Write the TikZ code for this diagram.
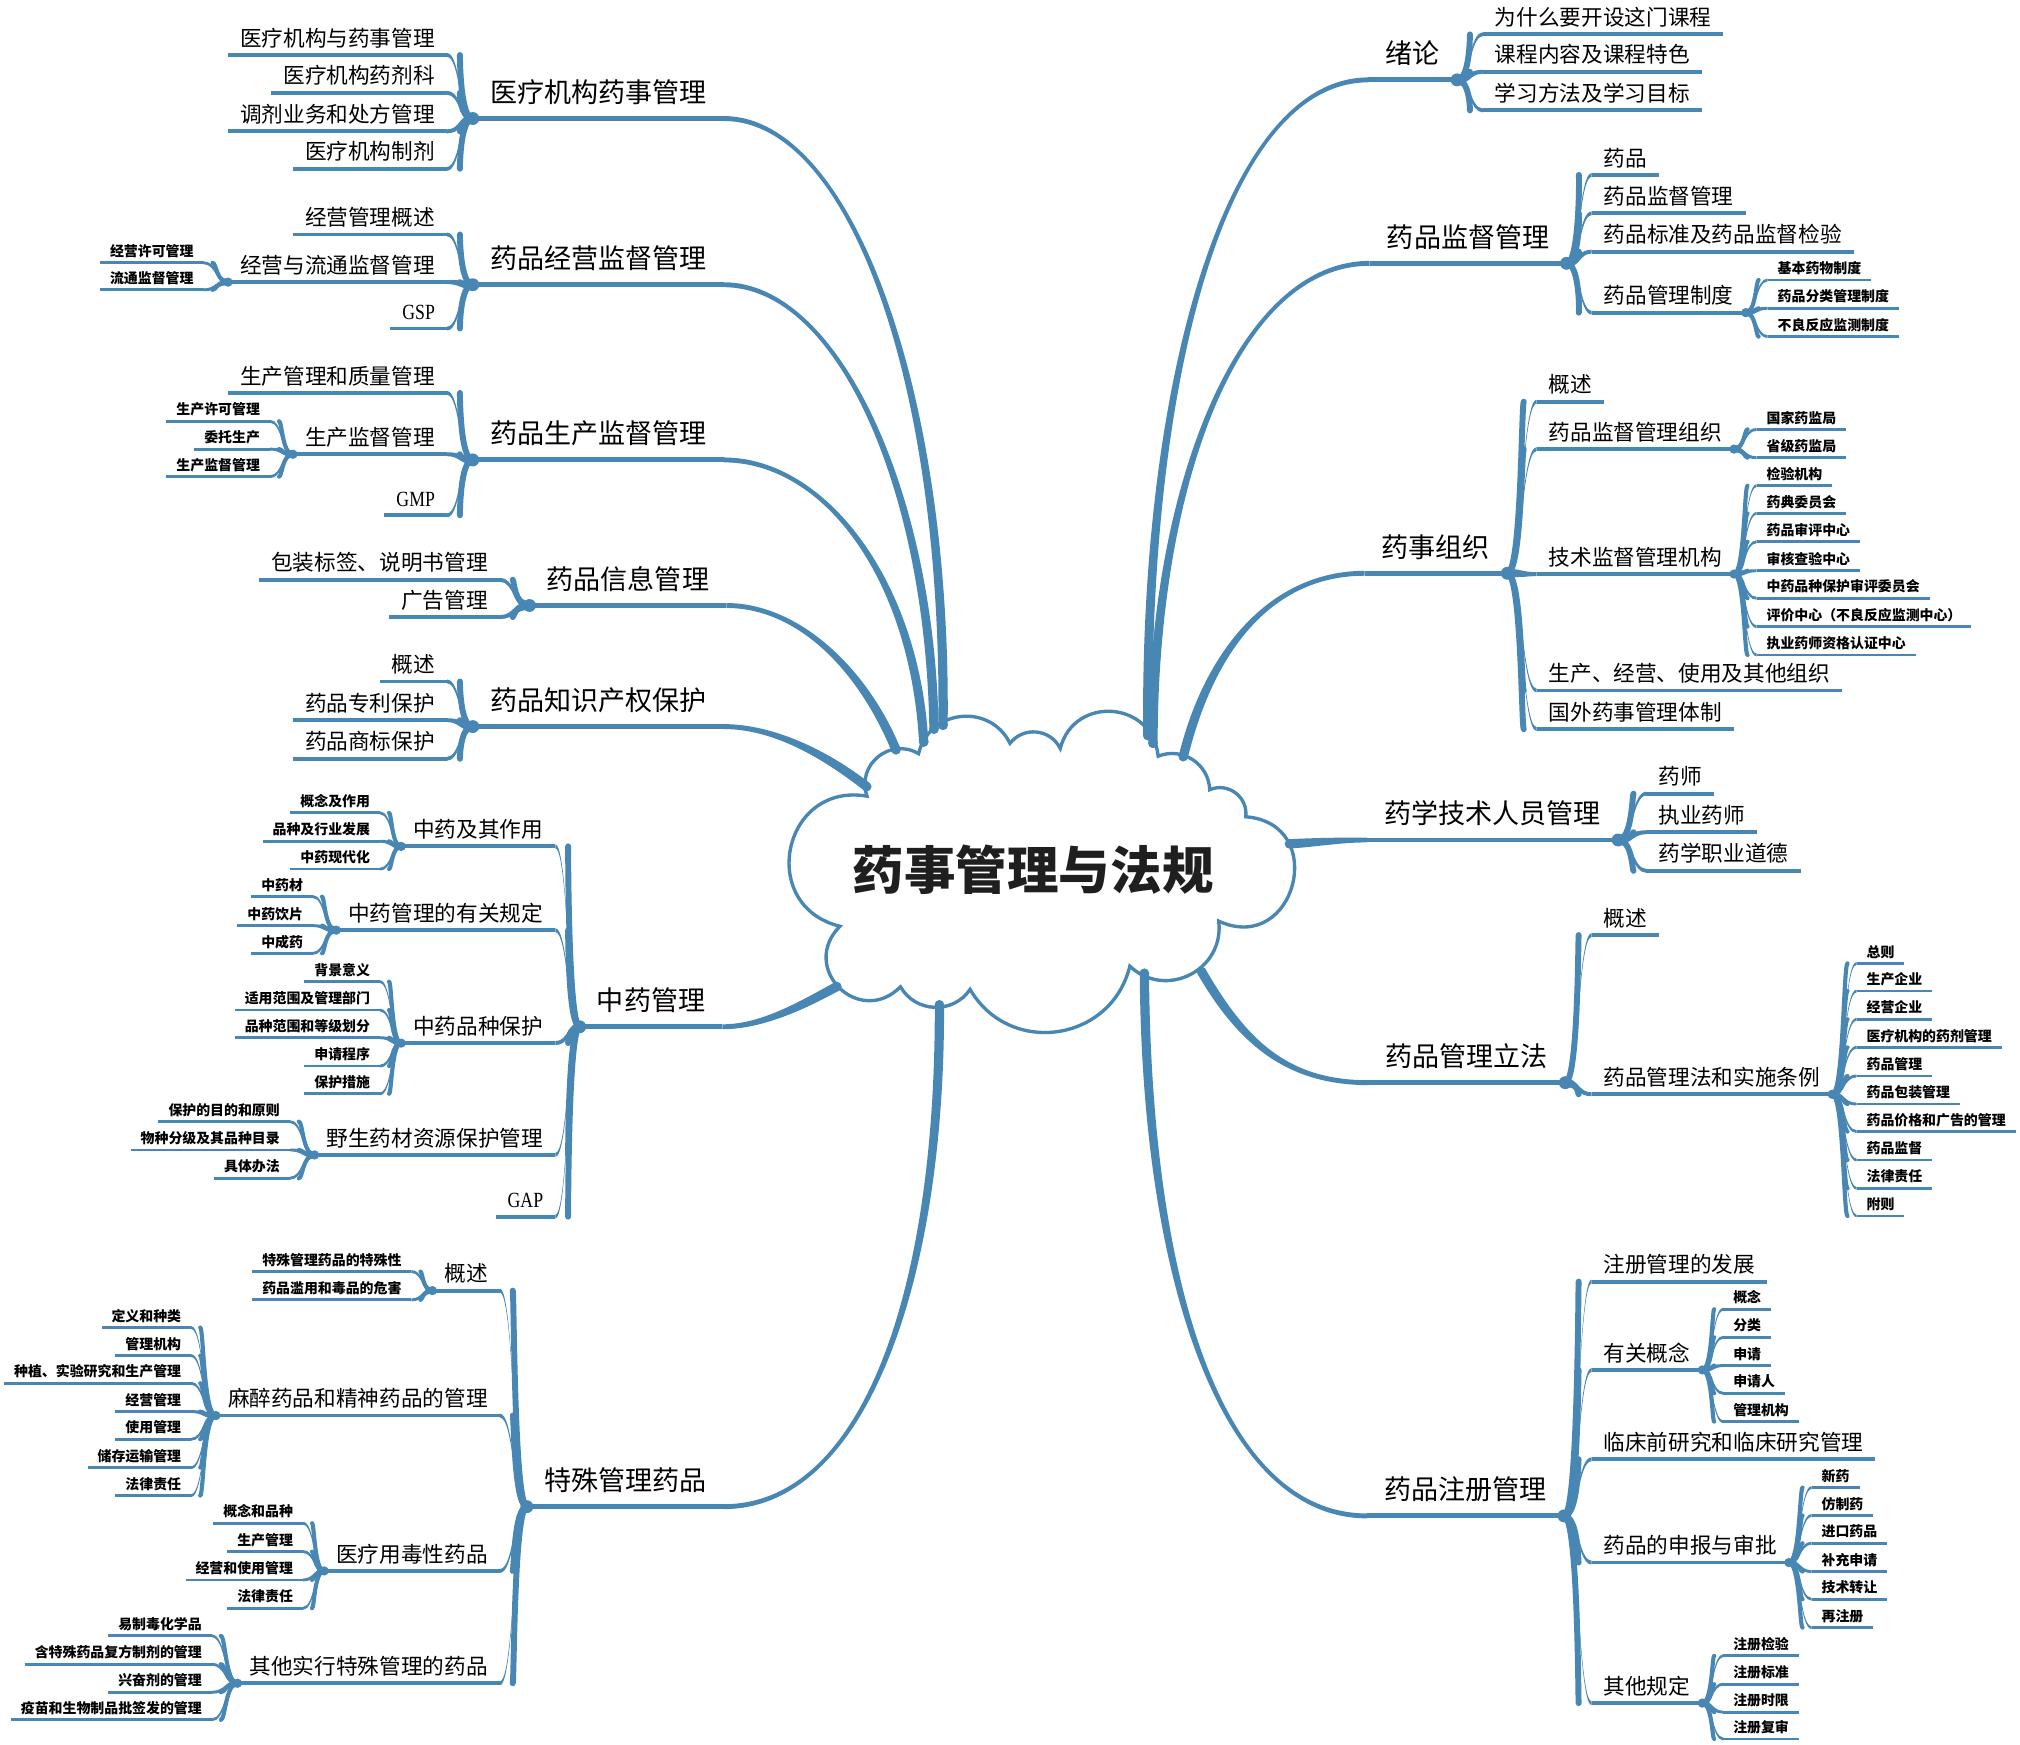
\documentclass[tikz,border=0pt]{standalone}
\usepackage{fontspec}
\usepackage{graphicx}
\setmainfont{Liberation Serif}
\newfontfamily\cjk{Noto Sans CJK SC}
\usetikzlibrary{calc}
\definecolor{brc}{RGB}{72,134,180}
\newcommand\tapr[6]{\fill[brc] ($#1!#5!90:#2$) .. controls ($#2!#5!-90:#1$) and ($#3!#6!90:#4$) .. ($#4!#6!-90:#3$) -- ($#4!#6!90:#3$) .. controls ($#3!#6!-90:#4$) and ($#2!#5!90:#1$) .. ($#1!#5!-90:#2$) -- cycle;}
\newcommand\BR[7]{\tapr{(#1)}{(#3 |- #1)}{(#3 |- #2)}{(#2)}{#4}{#5}\draw[brc, line width=#6, line cap=round, shorten >=#7] (#1) .. controls (#3 |- #1) and (#3 |- #2) .. (#2);}
\newcommand\LN[5]{\node[#2,anchor=south east] (#1) at (#3,#4) {#5}; \draw[#2ln] (#1.south west) -- (#1.south east);}
\newcommand\RN[5]{\node[#2,anchor=south west] (#1) at (#3,#4) {#5}; \draw[#2ln] (#1.south west) -- (#1.south east);}
\newcommand\LGone[3]{\foreach \ch in {#3} {\BR{#1.south west}{\ch.south east}{#2}{1.7pt}{0.75pt}{2.3pt}{5pt}}}
\newcommand\RGone[3]{\foreach \ch in {#3} {\BR{#1.south east}{\ch.south west}{#2}{1.7pt}{0.75pt}{2.3pt}{5pt}}}
\newcommand\LGtwo[3]{\foreach \ch in {#3} {\BR{#1.south west}{\ch.south east}{#2}{1.2pt}{0.55pt}{1.6pt}{3.5pt}}}
\newcommand\RGtwo[3]{\foreach \ch in {#3} {\BR{#1.south east}{\ch.south west}{#2}{1.2pt}{0.55pt}{1.6pt}{3.5pt}}}
\begin{document}
\begin{tikzpicture}[x=0.5pt,y=-0.5pt,
 lA/.style={font=\cjk\fontsize{10.5}{12}\selectfont, inner xsep=6.5pt, inner ysep=6pt, text height=9pt, text depth=0pt},
 lB/.style={font=\cjk\fontsize{8.4}{10}\selectfont, inner xsep=4.5pt, inner ysep=3.25pt, text height=7.2pt, text depth=0pt},
 lC/.style={font=\cjk\bfseries\fontsize{5.4}{6.5}\selectfont, inner xsep=3.7pt, inner ysep=2.25pt, text height=4.6pt, text depth=0pt},
 lAln/.style={draw=brc, line width=1.9pt},
 lBln/.style={draw=brc, line width=1.5pt},
 lCln/.style={draw=brc, line width=1.1pt},
 cloudline/.style={draw=brc, line width=1.3pt, fill=white},
 titlefont/.style={font=\cjk\bfseries\fontsize{20}{24}\selectfont, text=black!88}]
\fill[white] (0,0) rectangle (1568,1354);
\useasboundingbox (0,0) rectangle (1568,1354);

% central cloud
\path[cloudline] (652,719) to[bend left=88,looseness=1.65] (673,618) to[bend left=70,looseness=1.27] (713,585) to[bend left=70,looseness=1.27] (784,577) to[bend left=58,looseness=1.11] (823,581) to[bend left=80,looseness=1.45] (899,587) to[bend left=55,looseness=1.08] (939,613) to[bend left=60,looseness=1.13] (967,634) to[bend left=100,looseness=2.0] (946,715) to[bend left=70,looseness=1.27] (877,750) to[bend left=68,looseness=1.24] (753,768) to[bend left=58,looseness=1.11] (699,766) to[bend left=90,looseness=1.75] (652,719) -- cycle;
\node[titlefont] (title) at (802,675) {药事管理与法规};

% level-1 nodes
\node[lA,anchor=south west] (A) at (367,92) {医疗机构药事管理};
\node[lA,anchor=south west] (B) at (367,221) {药品经营监督管理};
\node[lA,anchor=south west] (C) at (367,357) {药品生产监督管理};
\node[lA,anchor=south west] (D) at (411,470) {药品信息管理};
\node[lA,anchor=south west] (E) at (367,564) {药品知识产权保护};
\node[lA,anchor=south west] (F) at (450,797) {中药管理};
\node[lA,anchor=south west] (G) at (409,1169.5) {特殊管理药品};
\node[lA,anchor=south east] (H) at (1131,62) {绪论};
\node[lA,anchor=south east] (I) at (1216,204.4) {药品监督管理};
\node[lA,anchor=south east] (J) at (1170,445) {药事组织};
\node[lA,anchor=south east] (K) at (1256,652) {药学技术人员管理};
\node[lA,anchor=south east] (L) at (1215,840.4) {药品管理立法};
\node[lA,anchor=south east] (M) at (1214,1176.7) {药品注册管理};
\foreach \n in {A,B,C,D,E,F,G,H,I,J,K,L,M} {\draw[lAln] (\n.south west) -- (\n.south east);}

% cloud attachment points
\coordinate (cA) at (732,563);
\coordinate (cB) at (725,566);
\coordinate (cC) at (717,576);
\coordinate (cD) at (695.5,582);
\coordinate (cE) at (672.7,610.6);
\coordinate (cF) at (649.5,765.8);
\coordinate (cG) at (729.2,780);
\coordinate (cH) at (891,571);
\coordinate (cI) at (895,577);
\coordinate (cJ) at (918.5,587.3);
\coordinate (cK) at (1001,655);
\coordinate (cL) at (932.7,754.2);
\coordinate (cM) at (888.3,755.5);

% main connectors
\tapr{(cA)}{(735,300)}{(660,92)}{(A.south east)}{1.8pt}{0.95pt}
\tapr{(cB)}{(722,380)}{(650,221)}{(B.south east)}{1.8pt}{0.95pt}
\tapr{(cC)}{(710,450)}{(640,357)}{(C.south east)}{1.8pt}{0.95pt}
\tapr{(cD)}{(670,520)}{(620,470)}{(D.south east)}{1.8pt}{0.95pt}
\tapr{(cE)}{(640,585)}{(600,564)}{(E.south east)}{1.8pt}{0.95pt}
\tapr{(cF)}{(620,782)}{(590,797)}{(F.south east)}{1.8pt}{0.95pt}
\tapr{(cG)}{(730,1000)}{(670,1169.5)}{(G.south east)}{1.8pt}{0.95pt}
\tapr{(cH)}{(888,300)}{(950,62)}{(H.south west)}{1.8pt}{0.95pt}
\tapr{(cI)}{(895,380)}{(960,204.4)}{(I.south west)}{1.8pt}{0.95pt}
\tapr{(cJ)}{(940,500)}{(990,445)}{(J.south west)}{1.8pt}{0.95pt}
\tapr{(cK)}{(1020,654)}{(1040,652)}{(K.south west)}{1.8pt}{0.95pt}
\tapr{(cL)}{(965,810)}{(1000,840.4)}{(L.south west)}{1.8pt}{0.95pt}
\tapr{(cM)}{(890,1000)}{(950,1176.7)}{(M.south west)}{1.8pt}{0.95pt}
\foreach \n in {cA,cB,cC,cD,cE,cF,cG,cH,cI,cJ,cK,cL,cM} {\fill[brc] (\n) circle (1.9pt);}

% ---------- left children ----------
\LN{A1}{lB}{347}{42.7}{医疗机构与药事管理}
\LN{A2}{lB}{347}{72}{医疗机构药剂科}
\LN{A3}{lB}{347}{102}{调剂业务和处方管理}
\LN{A4}{lB}{347}{131}{医疗机构制剂}

\LN{B1}{lB}{347}{182}{经营管理概述}
\LN{B2}{lB}{347}{219}{经营与流通监督管理}
\LN{B3}{lB}{347}{255}{\rmfamily\scalebox{0.82}[1]{GSP}}
\LN{B21}{lC}{158}{204}{经营许可管理}
\LN{B22}{lC}{158}{225}{流通监督管理}

\LN{C1}{lB}{347}{305}{生产管理和质量管理}
\LN{C2}{lB}{347}{352.6}{生产监督管理}
\LN{C3}{lB}{347}{400}{\rmfamily\scalebox{0.82}[1]{GMP}}
\LN{C21}{lC}{209.6}{327}{生产许可管理}
\LN{C22}{lC}{209.6}{348.6}{委托生产}
\LN{C23}{lC}{209.6}{370}{生产监督管理}

\LN{D1}{lB}{388}{450}{包装标签、说明书管理}
\LN{D2}{lB}{388}{479}{广告管理}

\LN{E1}{lB}{347}{529}{概述}
\LN{E2}{lB}{347}{559}{药品专利保护}
\LN{E3}{lB}{347}{589}{药品商标保护}

\LN{F1}{lB}{431}{657}{中药及其作用}
\LN{F2}{lB}{431}{722}{中药管理的有关规定}
\LN{F3}{lB}{431}{809.7}{中药品种保护}
\LN{F4}{lB}{431}{896.5}{野生药材资源保护管理}
\LN{F5}{lB}{431}{944.4}{\rmfamily\scalebox{0.82}[1]{GAP}}
\LN{F11}{lC}{295}{631}{概念及作用}
\LN{F12}{lC}{295}{653}{品种及行业发展}
\LN{F13}{lC}{295}{674.6}{中药现代化}
\LN{F21}{lC}{243}{696}{中药材}
\LN{F22}{lC}{243}{718.5}{中药饮片}
\LN{F23}{lC}{243}{740}{中成药}
\LN{F31}{lC}{295}{762}{背景意义}
\LN{F32}{lC}{295}{784}{适用范围及管理部门}
\LN{F33}{lC}{295}{805.5}{品种范围和等级划分}
\LN{F34}{lC}{295}{827.5}{申请程序}
\LN{F35}{lC}{295}{849}{保护措施}
\LN{F41}{lC}{225}{870.6}{保护的目的和原则}
\LN{F42}{lC}{225}{892.6}{物种分级及其品种目录}
\LN{F43}{lC}{225}{914.6}{具体办法}

\LN{G1}{lB}{388}{1001.8}{概述}
\LN{G2}{lB}{388}{1098.8}{麻醉药品和精神药品的管理}
\LN{G3}{lB}{388}{1219.4}{医疗用毒性药品}
\LN{G4}{lB}{388}{1306.6}{其他实行特殊管理的药品}
\LN{G11}{lC}{319.4}{987}{特殊管理药品的特殊性}
\LN{G12}{lC}{319.4}{1009}{药品滥用和毒品的危害}
\LN{G21}{lC}{148.4}{1030.5}{定义和种类}
\LN{G22}{lC}{148.4}{1052.3}{管理机构}
\LN{G23}{lC}{148.4}{1073.7}{种植、实验研究和生产管理}
\LN{G24}{lC}{148.4}{1095.7}{经营管理}
\LN{G25}{lC}{148.4}{1117.2}{使用管理}
\LN{G26}{lC}{148.4}{1139.2}{储存运输管理}
\LN{G27}{lC}{148.4}{1160.9}{法律责任}
\LN{G31}{lC}{235.2}{1182.4}{概念和品种}
\LN{G32}{lC}{235.2}{1204.4}{生产管理}
\LN{G33}{lC}{235.2}{1226.4}{经营和使用管理}
\LN{G34}{lC}{235.2}{1248.4}{法律责任}
\LN{G41}{lC}{164.4}{1269.8}{易制毒化学品}
\LN{G42}{lC}{164.4}{1291.8}{含特殊药品复方制剂的管理}
\LN{G43}{lC}{164.4}{1313.6}{兴奋剂的管理}
\LN{G44}{lC}{164.4}{1335}{疫苗和生物制品批签发的管理}

% ---------- right children ----------
\RN{H1}{lB}{1151}{26.7}{为什么要开设这门课程}
\RN{H2}{lB}{1151}{55.7}{课程内容及课程特色}
\RN{H3}{lB}{1151}{85.7}{学习方法及学习目标}

\RN{I1}{lB}{1235.5}{135.8}{药品}
\RN{I2}{lB}{1235.5}{165.6}{药品监督管理}
\RN{I3}{lB}{1235.5}{195.3}{药品标准及药品监督检验}
\RN{I4}{lB}{1235.5}{242.7}{药品管理制度}
\RN{I41}{lC}{1372.1}{217.3}{基本药物制度}
\RN{I42}{lC}{1372.1}{239.3}{药品分类管理制度}
\RN{I43}{lC}{1372.1}{261.3}{不良反应监测制度}

\RN{J1}{lB}{1192.8}{311.8}{概述}
\RN{J2}{lB}{1192.8}{348.6}{药品监督管理组织}
\RN{J3}{lB}{1192.8}{445.6}{技术监督管理机构}
\RN{J4}{lB}{1192.8}{536}{生产、经营、使用及其他组织}
\RN{J5}{lB}{1192.8}{566}{国外药事管理体制}
\RN{J21}{lC}{1363.5}{333.3}{国家药监局}
\RN{J22}{lC}{1363.5}{355.3}{省级药监局}
\RN{J31}{lC}{1363.5}{377}{检验机构}
\RN{J32}{lC}{1363.5}{398.5}{药典委员会}
\RN{J33}{lC}{1363.5}{420.5}{药品审评中心}
\RN{J34}{lC}{1363.5}{443}{审核查验中心}
\RN{J35}{lC}{1363.5}{464.4}{中药品种保护审评委员会}
\RN{J36}{lC}{1363.5}{486.4}{评价中心（不良反应监测中心）}
\RN{J37}{lC}{1363.5}{508.4}{执业药师资格认证中心}

\RN{K1}{lB}{1278}{616}{药师}
\RN{K2}{lB}{1278}{646}{执业药师}
\RN{K3}{lB}{1278}{676}{药学职业道德}

\RN{L1}{lB}{1235.4}{725.8}{概述}
\RN{L2}{lB}{1235.4}{849.4}{药品管理法和实施条例}
\RN{L21}{lC}{1441.1}{747.8}{总则}
\RN{L22}{lC}{1441.1}{769.2}{生产企业}
\RN{L23}{lC}{1441.1}{791.2}{经营企业}
\RN{L24}{lC}{1441.1}{813}{医疗机构的药剂管理}
\RN{L25}{lC}{1441.1}{835.2}{药品管理}
\RN{L26}{lC}{1441.1}{857}{药品包装管理}
\RN{L27}{lC}{1441.1}{878.4}{药品价格和广告的管理}
\RN{L28}{lC}{1441.1}{900.4}{药品监督}
\RN{L29}{lC}{1441.1}{922.4}{法律责任}
\RN{L20}{lC}{1441.1}{943.9}{附则}

\RN{M1}{lB}{1235.4}{994.8}{注册管理的发展}
\RN{M2}{lB}{1235.4}{1063.4}{有关概念}
\RN{M3}{lB}{1235.4}{1132.7}{临床前研究和临床研究管理}
\RN{M4}{lB}{1235.4}{1212.9}{药品的申报与审批}
\RN{M5}{lB}{1235.4}{1322}{其他规定}
\RN{M21}{lC}{1337.6}{1016.3}{概念}
\RN{M22}{lC}{1337.6}{1038}{分类}
\RN{M23}{lC}{1337.6}{1060}{申请}
\RN{M24}{lC}{1337.6}{1081.5}{申请人}
\RN{M25}{lC}{1337.6}{1103.5}{管理机构}
\RN{M41}{lC}{1406.2}{1154.7}{新药}
\RN{M42}{lC}{1406.2}{1176.4}{仿制药}
\RN{M43}{lC}{1406.2}{1197.9}{进口药品}
\RN{M44}{lC}{1406.2}{1219.9}{补充申请}
\RN{M45}{lC}{1406.2}{1241.4}{技术转让}
\RN{M46}{lC}{1406.2}{1263.4}{再注册}
\RN{M51}{lC}{1337.6}{1285.3}{注册检验}
\RN{M52}{lC}{1337.6}{1307.3}{注册标准}
\RN{M53}{lC}{1337.6}{1329}{注册时限}
\RN{M54}{lC}{1337.6}{1349.8}{注册复审}

% spine coordinates
\coordinate (sA) at (357,0);   \coordinate (sD) at (399,0);
\coordinate (sF) at (441,0);   \coordinate (sG) at (399,0);
\coordinate (sH) at (1141,0);  \coordinate (sI) at (1226,0);
\coordinate (sJ) at (1181,0);  \coordinate (sK) at (1267,0);
\coordinate (sL) at (1225,0);
\coordinate (sB2) at (168,0);  \coordinate (sC2) at (219,0);
\coordinate (sF1) at (304,0);  \coordinate (sF2) at (252,0);
\coordinate (sF4) at (235,0);  \coordinate (sG1) at (328,0);
\coordinate (sG2) at (158,0);  \coordinate (sG3) at (244,0);
\coordinate (sG4) at (175,0);  \coordinate (sI4) at (1363,0);
\coordinate (sJ2) at (1354,0); \coordinate (sL2) at (1431,0);
\coordinate (sM2) at (1329,0); \coordinate (sM4) at (1397,0);

% brackets level 1 -> 2
\LGone{A}{sA}{A1,A2,A3,A4}
\LGone{B}{sA}{B1,B2,B3}
\LGone{C}{sA}{C1,C2,C3}
\LGone{D}{sD}{D1,D2}
\LGone{E}{sA}{E1,E2,E3}
\LGone{F}{sF}{F1,F2,F3,F4,F5}
\LGone{G}{sG}{G1,G2,G3,G4}
\RGone{H}{sH}{H1,H2,H3}
\RGone{I}{sI}{I1,I2,I3,I4}
\RGone{J}{sJ}{J1,J2,J3,J4,J5}
\RGone{K}{sK}{K1,K2,K3}
\RGone{L}{sL}{L1,L2}
\RGone{M}{sL}{M1,M2,M3,M4,M5}
% brackets level 2 -> 3
\LGtwo{B2}{sB2}{B21,B22}
\LGtwo{C2}{sC2}{C21,C22,C23}
\LGtwo{F1}{sF1}{F11,F12,F13}
\LGtwo{F2}{sF2}{F21,F22,F23}
\LGtwo{F3}{sF1}{F31,F32,F33,F34,F35}
\LGtwo{F4}{sF4}{F41,F42,F43}
\LGtwo{G1}{sG1}{G11,G12}
\LGtwo{G2}{sG2}{G21,G22,G23,G24,G25,G26,G27}
\LGtwo{G3}{sG3}{G31,G32,G33,G34}
\LGtwo{G4}{sG4}{G41,G42,G43,G44}
\RGtwo{I4}{sI4}{I41,I42,I43}
\RGtwo{J2}{sJ2}{J21,J22}
\RGtwo{J3}{sJ2}{J31,J32,J33,J34,J35,J36,J37}
\RGtwo{L2}{sL2}{L21,L22,L23,L24,L25,L26,L27,L28,L29,L20}
\RGtwo{M2}{sM2}{M21,M22,M23,M24,M25}
\RGtwo{M4}{sM4}{M41,M42,M43,M44,M45,M46}
\RGtwo{M5}{sM2}{M51,M52,M53,M54}

% junction dots
\foreach \n in {A,B,C,D,E,F,G} {\fill[brc] (\n.south west) circle (2.5pt);}
\foreach \n in {H,I,J,K,L,M} {\fill[brc] (\n.south east) circle (2.5pt);}
\foreach \n in {B2,C2,F1,F2,F3,F4,G1,G2,G3,G4} {\fill[brc] (\n.south west) circle (1.8pt);}
\foreach \n in {I4,J2,J3,L2,M2,M4,M5} {\fill[brc] (\n.south east) circle (1.8pt);}
\end{tikzpicture}
\end{document}
